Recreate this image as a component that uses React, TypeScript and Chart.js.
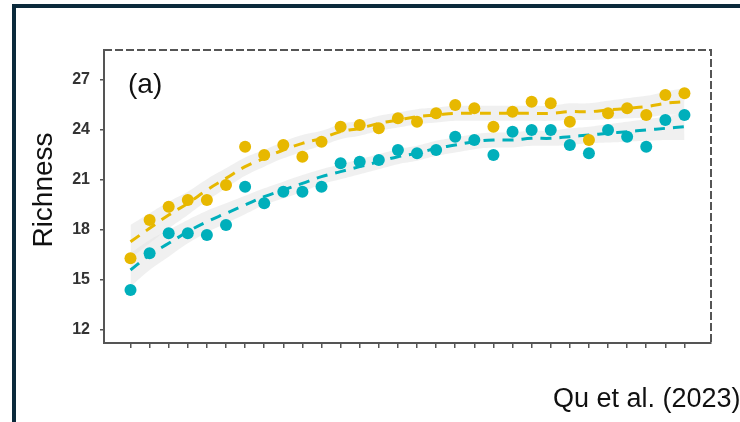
import React, { useEffect, useRef } from "react";
import { Chart, registerables } from "chart.js";

Chart.register(...registerables);

// ---- data ----
const xPositions = [1,2,3,4,5,6,7,8,9,10,11,12,13,14,15,16,17,18,19,20,21,22,23,24,25,26,27,28,29,30];
const yTicks = [12, 15, 18, 21, 24, 27];

const yellowPoints = [16.3,18.6,19.4,19.8,19.8,20.7,23.0,22.5,23.1,22.4,23.3,24.2,24.3,24.1,24.7,24.5,25.0,25.5,25.3,24.2,25.1,25.7,25.6,24.5,23.4,25.0,25.3,24.9,26.1,26.2];
const tealPoints = [14.4,16.6,17.8,17.8,17.7,18.3,20.6,19.6,20.3,20.3,20.6,22.0,22.1,22.2,22.8,22.6,22.8,23.6,23.4,22.5,23.9,24.0,24.0,23.1,22.6,24.0,23.6,23.0,24.6,24.9];

const yellowFit = [17.3,18.1,18.9,19.6,20.4,21.1,21.8,22.3,22.8,23.2,23.5,23.9,24.1,24.4,24.6,24.8,24.9,25.0,25.0,25.0,25.0,25.0,25.0,25.1,25.1,25.2,25.3,25.4,25.6,25.7];
const tealFit = [15.6,16.5,17.2,17.9,18.5,19.0,19.5,20.0,20.4,20.8,21.2,21.5,21.8,22.1,22.4,22.6,22.9,23.1,23.3,23.4,23.4,23.5,23.5,23.6,23.7,23.8,23.9,24.0,24.1,24.2];

const yellowBandHalf = [1.0,0.9,0.8,0.7,0.65,0.6,0.55,0.5,0.5,0.5,0.45,0.45,0.45,0.45,0.45,0.45,0.45,0.45,0.45,0.45,0.45,0.45,0.45,0.5,0.5,0.55,0.6,0.65,0.7,0.8];
const tealBandHalf = [1.0,0.9,0.8,0.7,0.65,0.6,0.55,0.5,0.5,0.5,0.45,0.45,0.45,0.45,0.45,0.45,0.45,0.45,0.45,0.45,0.45,0.45,0.45,0.5,0.5,0.55,0.6,0.65,0.7,0.8];

const YELLOW = "#E7B800";
const TEAL = "#00AFBB";
const BAND = "rgba(225,225,225,0.5)";
const FONT = "'Liberation Sans', Arial, sans-serif";

const pts = (ys: number[]) => ys.map((y, i) => ({ x: xPositions[i], y }));

const decorPlugin = {
  id: "decor",
  beforeDraw(chart: any) {
    const ctx = chart.ctx;
    ctx.save();
    ctx.fillStyle = "#fff";
    ctx.fillRect(0, 0, chart.width, chart.height);
    ctx.fillStyle = "#0b2a3b";
    ctx.fillRect(12, 4, 728, 4);
    ctx.fillRect(12, 4, 4, 418);
    ctx.restore();
  },
  afterDraw(chart: any) {
    const ctx = chart.ctx;
    const a = chart.chartArea;
    ctx.save();
    ctx.strokeStyle = "#555";
    ctx.lineWidth = 2;
    ctx.setLineDash([8, 3]);
    ctx.beginPath();
    ctx.moveTo(a.left, a.top);
    ctx.lineTo(a.right, a.top);
    ctx.lineTo(a.right, a.bottom);
    ctx.stroke();
    ctx.setLineDash([]);

    ctx.fillStyle = "#111";
    ctx.font = `28px ${FONT}`;
    ctx.textAlign = "left";
    ctx.textBaseline = "middle";
    ctx.fillText("(a)", 128, 85);

    ctx.font = `27px ${FONT}`;
    ctx.fillText("Qu et al. (2023)", 553, 400);

    ctx.translate(44, 190);
    ctx.rotate(-Math.PI / 2);
    ctx.textAlign = "center";
    ctx.font = `28px ${FONT}`;
    ctx.fillText("Richness", 0, 0);
    ctx.restore();
  },
};

export default function App() {
  const ref = useRef<HTMLCanvasElement | null>(null);

  useEffect(() => {
    if (!ref.current) return;
    const yLow = yellowFit.map((v, i) => v - yellowBandHalf[i]);
    const yHigh = yellowFit.map((v, i) => v + yellowBandHalf[i]);
    const tLow = tealFit.map((v, i) => v - tealBandHalf[i]);
    const tHigh = tealFit.map((v, i) => v + tealBandHalf[i]);

    const chart = new Chart(ref.current, {
      type: "line",
      data: {
        datasets: [
          { data: pts(yLow), borderWidth: 0, pointRadius: 0, fill: false, order: 3, tension: 0.4, borderColor: "transparent" },
          { data: pts(yHigh), borderWidth: 0, pointRadius: 0, fill: "-1", backgroundColor: BAND, order: 3, tension: 0.4, borderColor: "transparent" },
          { data: pts(tLow), borderWidth: 0, pointRadius: 0, fill: false, order: 3, tension: 0.4, borderColor: "transparent" },
          { data: pts(tHigh), borderWidth: 0, pointRadius: 0, fill: "-1", backgroundColor: BAND, order: 3, tension: 0.4, borderColor: "transparent" },
          { data: pts(yellowFit), borderColor: YELLOW, borderWidth: 3, borderDash: [11, 8], pointRadius: 0, fill: false, order: 2, tension: 0.4 },
          { data: pts(tealFit), borderColor: TEAL, borderWidth: 3, borderDash: [11, 8], pointRadius: 0, fill: false, order: 2, tension: 0.4 },
          { data: pts(yellowPoints), showLine: false, pointRadius: 6, pointBorderWidth: 0, pointBackgroundColor: YELLOW, borderColor: YELLOW, order: 1 },
          { data: pts(tealPoints), showLine: false, pointRadius: 6, pointBorderWidth: 0, pointBackgroundColor: TEAL, borderColor: TEAL, order: 1 },
        ],
      },
      options: {
        responsive: false,
        animation: false,
        layout: { padding: { top: 50, right: 29, left: 0, bottom: 0 } },
        plugins: { legend: { display: false }, tooltip: { enabled: false } },
        scales: {
          x: {
            type: "linear",
            min: -0.387,
            max: 31.39,
            afterBuildTicks: (s: any) => { s.ticks = xPositions.map((v) => ({ value: v })); },
            afterFit: (s: any) => { s.height = 79; },
            ticks: { display: false },
            grid: { drawOnChartArea: false, drawTicks: true, tickLength: 5, color: "#555", lineWidth: 1.5 },
            border: { display: true, color: "#555", width: 2, dash: [8, 3] },
          },
          y: {
            type: "linear",
            min: 11.22,
            max: 28.8,
            afterBuildTicks: (s: any) => { s.ticks = yTicks.map((v) => ({ value: v })); },
            afterFit: (s: any) => { s.width = 104; },
            ticks: { color: "#333", font: { family: FONT, size: 16, weight: "bold" }, padding: 10 },
            grid: { drawOnChartArea: false, drawTicks: true, tickLength: 4, color: "#555", lineWidth: 1.5 },
            border: { display: true, color: "#555", width: 2 },
          },
        },
      },
      plugins: [decorPlugin],
    } as any);
    return () => chart.destroy();
  }, []);

  return (
    <div style={{ position: "fixed", left: 0, top: 0, width: 740, height: 422, background: "#fff" }}>
      <canvas ref={ref} width={740} height={422} style={{ display: "block" }} />
    </div>
  );
}
